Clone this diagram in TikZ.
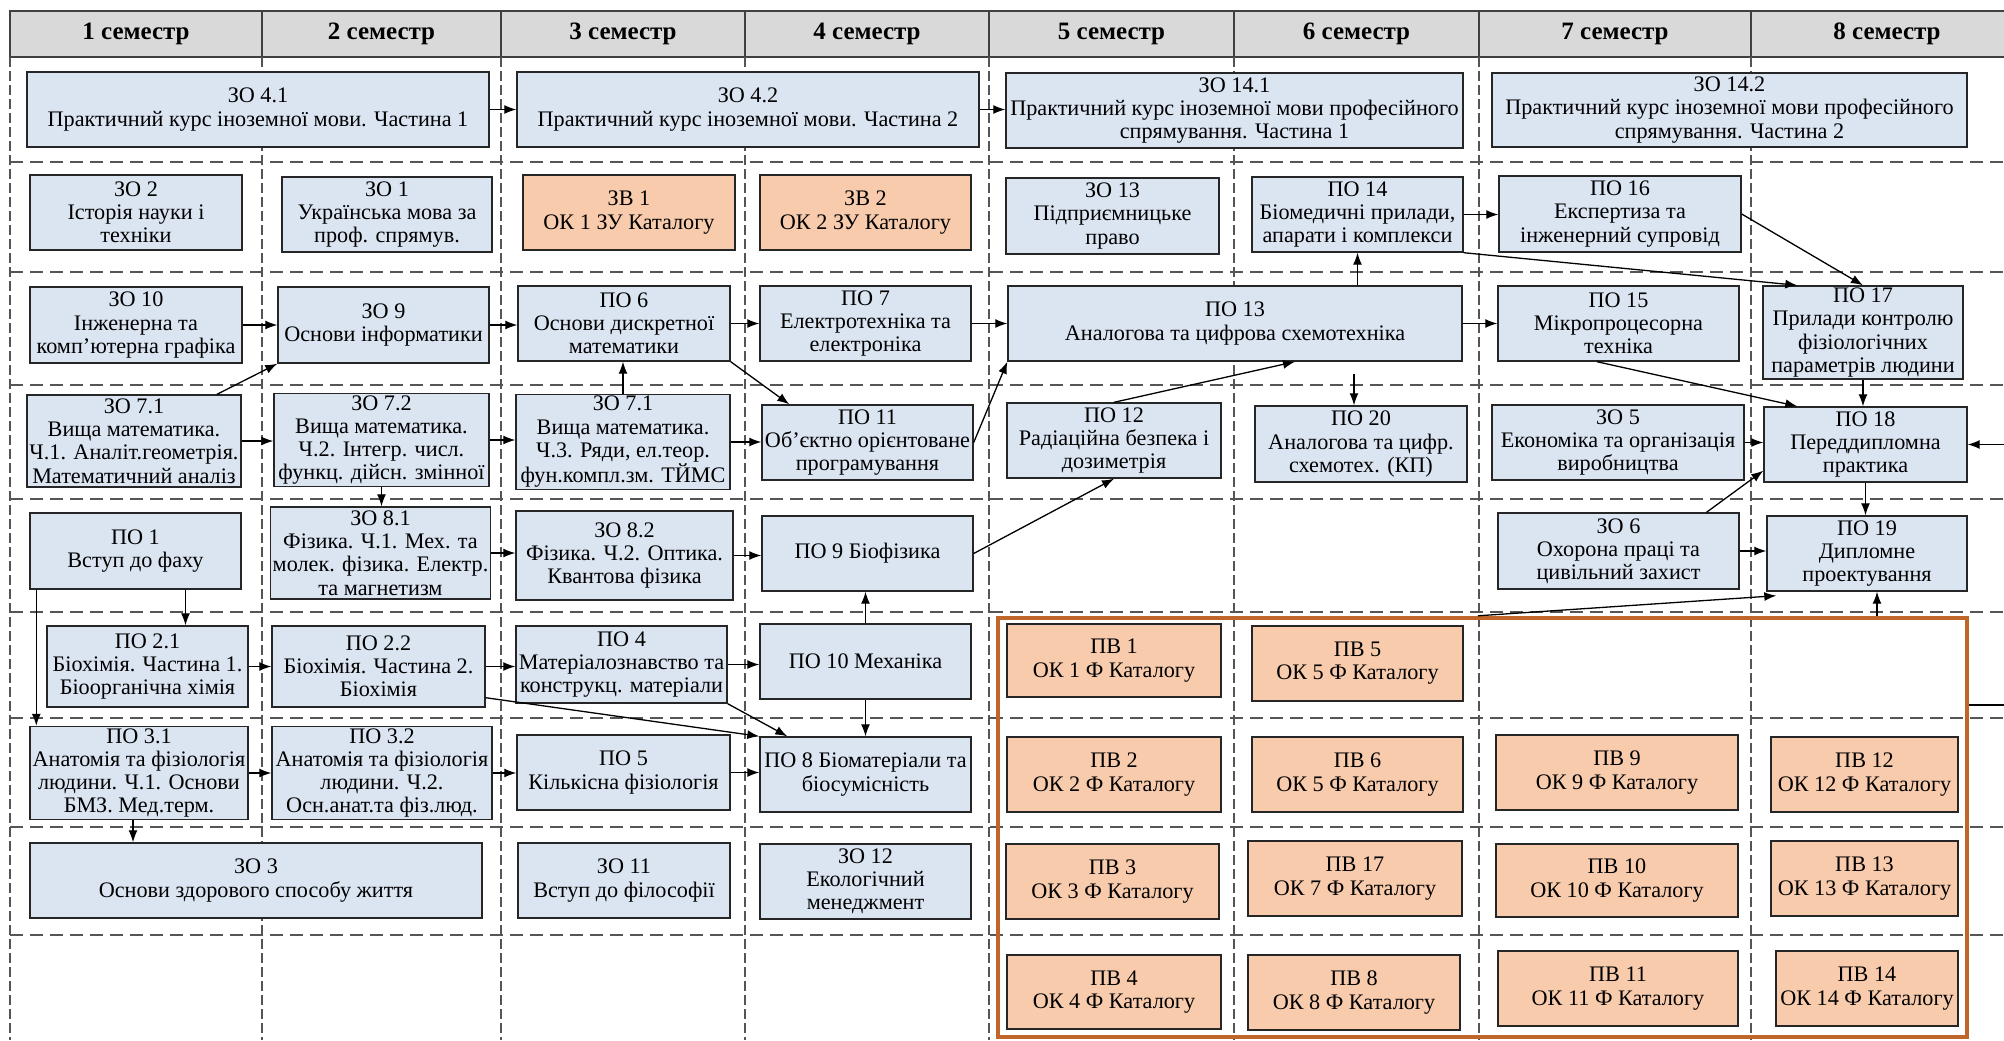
\documentclass[tikz,border=0pt]{standalone}
\usepackage{fontspec}
\setmainfont{Liberation Serif}
\usetikzlibrary{arrows.meta}
\definecolor{boxblue}{RGB}{219,229,242}
\definecolor{boxorange}{RGB}{248,203,173}
\definecolor{frameor}{RGB}{192,102,42}
\definecolor{hdrgray}{RGB}{217,217,217}
\definecolor{gridgray}{RGB}{85,85,85}
\newcommand{\bx}[7]{%
  \node[#6, minimum width={(#4-#2)*0.5pt}, minimum height={(#5-#3)*0.5pt}] (#1) at ({(#2+#4)/2},{(#3+#5)/2}) {#7};}
\tikzset{
  bb/.style={draw=black!85, line width=0.7pt, fill=boxblue, align=center, inner sep=1pt,
             font=\fontsize{11.1}{11.6}\selectfont},
  bo/.style={bb, fill=boxorange},
  frame/.style={draw=frameor, line width=2.2pt, inner sep=0pt},
  arr/.style={-{Latex[length=6pt,width=4.5pt]}, line width=0.65pt},
  ln/.style={line width=0.65pt},
  hgrid/.style={draw=gridgray, line width=0.8pt, dash pattern=on 6.5pt off 3.5pt},
  vgrid/.style={draw=gridgray, line width=0.6pt, dash pattern=on 5pt off 2pt},
  hdr/.style={font=\fontsize{12.5}{14}\selectfont\bfseries}
}
\begin{document}
\begin{tikzpicture}[x=0.5pt,y=-0.5pt]
\useasboundingbox (0,0) rectangle (2004,1040);
\fill[white] (0,0) rectangle (2004,1040);
% header
\fill[hdrgray] (10,11) rectangle (2004,57);
\draw[line width=0.9pt, black!75] (2004,11) -- (10,11) -- (10,57) -- (2004,57);
\foreach \x in {262,501,745,989,1234,1479,1751} \draw[line width=0.9pt, black!75] (\x,11) -- (\x,57);
\node[hdr] (h1) at (136,34) {1 семестр};
\node[hdr] (h2) at (381.5,34) {2 семестр};
\node[hdr] (h3) at (623,34) {3 семестр};
\node[hdr] (h4) at (867,34) {4 семестр};
\node[hdr] (h5) at (1111.5,34) {5 семестр};
\node[hdr] (h6) at (1356.5,34) {6 семестр};
\node[hdr] (h7) at (1615,34) {7 семестр};
\node[hdr] (h8) at (1887,34) {8 семестр};
% grid
\foreach \y in {162,272,385,499,612,718,827,935} \draw[hgrid] (10,\y) -- (2004,\y);
\foreach \x in {10,262,501,745,989,1234,1479,1751} \draw[vgrid] (\x,57) -- (\x,1040);
% elective frame
\bx{pv}{998}{618}{1967}{1037}{frame}{}
% row 1
\bx{zo41}{27}{72}{489}{147}{bb}{ЗО 4.1\\Практичний курс іноземної мови. Частина 1}
\bx{zo42}{517}{72}{979}{147}{bb}{ЗО 4.2\\Практичний курс іноземної мови. Частина 2}
\bx{zo141}{1006}{73}{1463}{148}{bb}{ЗО 14.1\\Практичний курс іноземної мови професійного\\спрямування. Частина 1}
\bx{zo142}{1492}{73}{1967}{147}{bb}{ЗО 14.2\\Практичний курс іноземної мови професійного\\спрямування. Частина 2}
% row 2
\bx{zo2}{30}{175}{242}{250}{bb}{ЗО 2\\Історія науки і\\техніки}
\bx{zo1}{282}{177}{492}{252}{bb}{ЗО 1\\Українська мова за\\проф. спрямув.}
\bx{zv1}{523}{175}{735}{250}{bo}{ЗВ 1\\ОК 1 ЗУ Каталогу}
\bx{zv2}{760}{175}{971}{250}{bo}{ЗВ 2\\ОК 2 ЗУ Каталогу}
\bx{zo13}{1006}{178}{1219}{254}{bb}{ЗО 13\\Підприємницьке\\право}
\bx{po14}{1252}{177}{1463}{252}{bb}{ПО 14\\Біомедичні прилади,\\апарати і комплекси}
\bx{po16}{1499}{176}{1741}{252}{bb}{ПО 16\\Експертиза та\\інженерний супровід}
% row 3
\bx{zo10}{30}{287}{242}{363}{bb}{ЗО 10\\Інженерна та\\комп’ютерна графіка}
\bx{zo9}{278}{287}{489}{363}{bb}{ЗО 9\\Основи інформатики}
\bx{po6}{518}{286}{730}{361}{bb}{ПО 6\\Основи дискретної\\математики}
\bx{po7}{760}{286}{971}{361}{bb}{ПО 7\\Електротехніка та\\електроніка}
\bx{po13}{1008}{286}{1462}{361}{bb}{ПО 13\\Аналогова та цифрова схемотехніка}
\bx{po15}{1498}{286}{1739}{361}{bb}{ПО 15\\Мікропроцесорна\\техніка}
\bx{po17}{1763}{286}{1963}{379}{bb}{ПО 17\\Прилади контролю\\фізіологічних\\параметрів людини}
% row 4
\bx{zo71}{27}{395}{241}{487}{bb}{ЗО 7.1\\Вища математика.\\Ч.1. Аналіт.геометрія.\\Математичний аналіз}
\bx{zo72}{274}{394}{489}{486}{bb}{ЗО 7.2\\Вища математика.\\Ч.2. Інтегр. числ.\\функц. дійсн. змінної}
\bx{zo73}{516}{397}{730}{487}{bb}{ЗО 7.1\\Вища математика.\\Ч.3. Ряди, ел.теор.\\фун.компл.зм. ТЙМС}
\bx{po11}{762}{405}{973}{480}{bb}{ПО 11\\Об’єктно орієнтоване\\програмування}
\bx{po12}{1007}{403}{1221}{478}{bb}{ПО 12\\Радіаційна безпека і\\дозиметрія}
\bx{po20}{1255}{406}{1467}{482}{bb}{ПО 20\\Аналогова та цифр.\\схемотех. (КП)}
\bx{zo5}{1492}{405}{1744}{480}{bb}{ЗО 5\\Економіка та організація\\виробництва}
\bx{po18}{1764}{407}{1967}{482}{bb}{ПО 18\\Переддипломна\\практика}
% row 5
\bx{po1}{30}{513}{241}{589}{bb}{ПО 1\\Вступ до фаху}
\bx{zo81}{272}{507}{489}{599}{bb}{ЗО 8.1\\Фізика. Ч.1. Мех. та\\молек. фізика. Електр.\\та магнетизм}
\bx{zo82}{516}{511}{733}{600}{bb}{ЗО 8.2\\Фізика. Ч.2. Оптика.\\Квантова фізика}
\bx{po9}{762}{516}{973}{591}{bb}{ПО 9 Біофізика}
\bx{zo6}{1498}{513}{1739}{589}{bb}{ЗО 6\\Охорона праці та\\цивільний захист}
\bx{po19}{1767}{516}{1967}{591}{bb}{ПО 19\\Дипломне\\проектування}
% row 6
\bx{po21}{47}{626}{248}{707}{bb}{ПО 2.1\\Біохімія. Частина 1.\\Біоорганічна хімія}
\bx{po22}{272}{626}{485}{707}{bb}{ПО 2.2\\Біохімія. Частина 2.\\Біохімія}
\bx{po4}{516}{626}{727}{703}{bb}{ПО 4\\Матеріалознавство та\\конструкц. матеріали}
\bx{po10}{760}{624}{971}{699}{bb}{ПО 10 Механіка}
\bx{pv1}{1007}{624}{1221}{697}{bo}{ПВ 1\\ОК 1 Ф Каталогу}
\bx{pv5}{1252}{626}{1463}{701}{bo}{ПВ 5\\ОК 5 Ф Каталогу}
% row 7
\bx{po31}{30}{728}{248}{818}{bb}{ПО 3.1\\Анатомія та фізіологія\\людини. Ч.1. Основи\\БМЗ. Мед.терм.}
\bx{po32}{272}{728}{492}{818}{bb}{ПО 3.2\\Анатомія та фізіологія\\людини. Ч.2.\\Осн.анат.та фіз.люд.}
\bx{po5}{517}{735}{730}{810}{bb}{ПО 5\\Кількісна фізіологія}
\bx{po8}{760}{737}{971}{812}{bb}{ПО 8 Біоматеріали та\\біосумісність}
\bx{pv2}{1007}{737}{1221}{812}{bo}{ПВ 2\\ОК 2 Ф Каталогу}
\bx{pv6}{1252}{737}{1463}{812}{bo}{ПВ 6\\ОК 5 Ф Каталогу}
\bx{pv9}{1496}{735}{1738}{810}{bo}{ПВ 9\\ОК 9 Ф Каталогу}
\bx{pv12}{1771}{737}{1958}{812}{bo}{ПВ 12\\ОК 12 Ф Каталогу}
% row 8
\bx{zo3}{30}{843}{482}{918}{bb}{ЗО 3\\Основи здорового способу життя}
\bx{zo11}{518}{843}{730}{918}{bb}{ЗО 11\\Вступ до філософії}
\bx{zo12}{760}{844}{971}{919}{bb}{ЗО 12\\Екологічний\\менеджмент}
\bx{pv3}{1006}{844}{1219}{919}{bo}{ПВ 3\\ОК 3 Ф Каталогу}
\bx{pv17}{1248}{841}{1462}{916}{bo}{ПВ 17\\ОК 7 Ф Каталогу}
\bx{pv10}{1496}{844}{1738}{917}{bo}{ПВ 10\\ОК 10 Ф Каталогу}
\bx{pv13}{1771}{841}{1958}{916}{bo}{ПВ 13\\ОК 13 Ф Каталогу}
% row 9
\bx{pv4}{1007}{955}{1221}{1029}{bo}{ПВ 4\\ОК 4 Ф Каталогу}
\bx{pv8}{1248}{955}{1460}{1030}{bo}{ПВ 8\\ОК 8 Ф Каталогу}
\bx{pv11}{1498}{951}{1738}{1026}{bo}{ПВ 11\\ОК 11 Ф Каталогу}
\bx{pv14}{1776}{951}{1958}{1026}{bo}{ПВ 14\\ОК 14 Ф Каталогу}
% connectors
\draw[arr] (zo41.east) -- (zo41.east -| zo42.west);
\draw[arr] (zo42.east) -- (zo42.east -| zo141.west);
\draw[arr] (po14.east) -- (po14.east -| po16.west);
\draw[arr] (po14.south east) -- ([xshift=17.5pt]po17.north west);
\draw[arr] (po16.east) -- (po17.north);
\draw[arr] (zo10.east) -- (zo10.east -| zo9.west);
\draw[arr] (zo9.east) -- (zo9.east -| po6.west);
\draw[arr] (po6.east) -- (po6.east -| po7.west);
\draw[arr] (po7.east) -- (po7.east -| po13.west);
\draw[arr] (po13.east) -- (po13.east -| po15.west);
\draw[arr] (po13.north -| po14.south) -- (po14.south);
\coordinate (c20) at ([xshift=-3.5pt]po20.north);
\draw[arr, shorten <=6pt] (po13.south -| c20) -- (c20);
\draw[arr] ([xshift=41.5pt]zo71.north) -- (zo9.south west);
\draw[arr] (zo71.east) -- (zo71.east -| zo72.west);
\draw[arr] (zo72.east) -- (zo72.east -| zo73.west);
\draw[arr] (zo72.south) -- (zo72.south |- zo81.north);
\draw[arr] (zo73.north) -- (zo73.north |- po6.south);
\draw[arr] (zo73.east) -- (zo73.east -| po11.west);
\draw[arr] (po6.south east) -- ([xshift=14pt]po11.north west);
\draw[arr] (po11.east) -- (po13.south west);
\draw[arr] (po12.north) -- ([xshift=30pt]po13.south);
\draw[arr] (po9.east) -- (po12.south);
\draw[arr] ([xshift=-10.75pt]po15.south) -- ([xshift=17pt]po18.north west);
\draw[arr] (po17.south) -- (po17.south |- po18.north);
\draw[arr] (zo5.east) -- (zo5.east -| po18.west);
\coordinate (r1) at (2004,444.5);
\draw[arr] (r1) -- (po18.east);
\draw[arr] ([xshift=44pt]zo6.north) -- ([yshift=6pt]po18.south west);
\draw[arr] (po18.south) -- (po18.south |- po19.north);
\draw[arr] (zo81.east) -- (zo81.east -| zo82.west);
\draw[arr] (zo82.east) -- (zo82.east -| po9.west);
\draw[arr] (zo6.east) -- (zo6.east -| po19.west);
\coordinate (a1) at ([xshift=25pt]po1.south);
\draw[arr] (a1) -- (a1 |- po21.north);
\coordinate (a2) at ([xshift=3.5pt]po1.south west);
\draw[arr] (a2) -- (a2 |- po31.north);
\draw[arr] ([xshift=241pt]pv.north west) -- ([xshift=5pt,yshift=-2pt]po19.south west);
\coordinate (a3) at ([xshift=5pt]po19.south);
\draw[arr] (a3 |- pv.north) -- (a3);
\coordinate (r2) at (2004,705);
\draw[ln] (r2 -| pv.east) -- (r2);
\draw[arr] (po21.east) -- (po21.east -| po22.west);
\draw[arr] (po22.east) -- (po22.east -| po4.west);
\draw[arr] (po4.east) -- (po4.east -| po10.west);
\draw[arr] (po10.north) -- (po10.north |- po9.south);
\draw[arr] (po10.south) -- (po10.south |- po8.north);
\draw[arr] (po4.south east) -- ([xshift=14pt]po8.north west);
\draw[arr] ([yshift=5pt]po22.south east) -- (po8.north west);
\draw[arr] (po31.east) -- (po31.east -| po32.west);
\draw[arr] (po32.east) -- (po32.east -| po5.west);
\draw[arr] (po5.east) -- (po5.east -| po8.west);
\coordinate (a4) at ([xshift=-3pt]po31.south);
\draw[arr] (a4) -- (a4 |- zo3.north);
\end{tikzpicture}
\end{document}
